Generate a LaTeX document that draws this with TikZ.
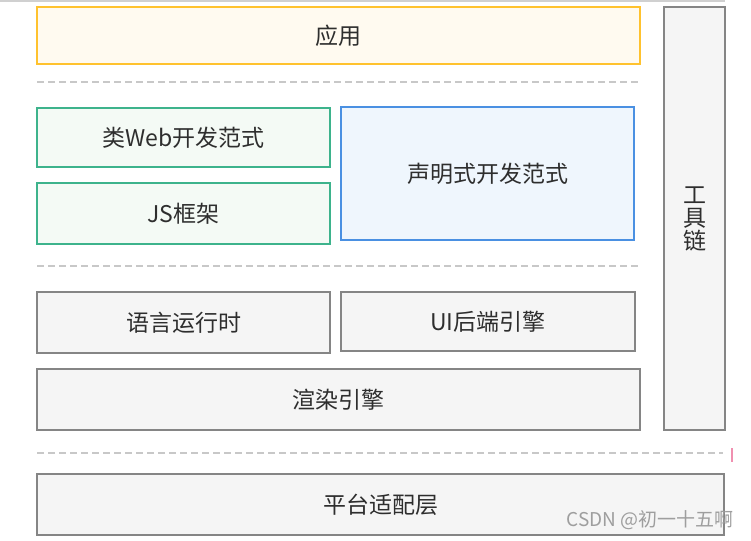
\documentclass[tikz,border=0pt]{standalone}
\usepackage{fontspec}
\setmainfont{Noto Sans CJK SC}
\usetikzlibrary{positioning}
\definecolor{textGray}{HTML}{2E2E2E}
\definecolor{appFill}{HTML}{FFFAF0}
\definecolor{appBorder}{HTML}{FFC22E}
\definecolor{webFill}{HTML}{F4FAF5}
\definecolor{webBorder}{HTML}{3DB38C}
\definecolor{declFill}{HTML}{EFF6FD}
\definecolor{declBorder}{HTML}{4A90E2}
\definecolor{baseFill}{HTML}{F5F5F5}
\definecolor{baseBorder}{HTML}{858585}
\definecolor{sepGray}{HTML}{C8C8C8}
\definecolor{markPink}{HTML}{F090B0}
\tikzset {
    style A/.style={
        fill=appFill,
        draw=appBorder,
        line width=1.3pt,
        rectangle, % Set the shape as a rectangle
        inner sep=0pt,
        align=center,
        text=textGray,
    },
    style B/.style={
        fill=webFill,
        draw=webBorder,
        line width=1.3pt,
        rectangle, % Set the shape as a rectangle
        inner sep=0pt,
        align=center,
        text=textGray,
    },
    style C/.style={
        fill=declFill,
        draw=declBorder,
        line width=1.3pt,
        rectangle, % Set the shape as a rectangle
        inner sep=0pt,
        align=center,
        text=textGray,
    },
    style D/.style={
        fill=baseFill,
        draw=baseBorder,
        line width=1.3pt,
        rectangle, % Set the shape as a rectangle
        inner sep=0pt,
        align=center,
        text=textGray,
    },
    style Sep/.style={
        draw=sepGray,
        line width=1.3pt,
        dash pattern=on 7pt off 4pt,
    },
}

\begin{document}
\begin{tikzpicture}
        [x=1pt, y=-1pt, font=\fontsize{23}{23}\selectfont]
        \useasboundingbox (0,0) rectangle (751,540);
        \fill[baseFill!85!black] (0,0) rectangle (725,2);

        \node[style A, minimum width=603pt, minimum height=57pt] at (338.5,35.5) (app) {应用};
        \node[style B, minimum width=293pt, minimum height=59pt] at (183.5,137.5) (web) {类Web开发范式};
        \node[style B, minimum width=293pt, minimum height=61pt] at (183.5,213.5) (js) {JS框架};
        \node[style C, minimum width=293pt, minimum height=133pt] at (487.5,173.5) (decl) {声明式开发范式};
        \node[style D, minimum width=293pt, minimum height=61pt] at (183.5,322.5) (runtime) {语言运行时};
        \node[style D, minimum width=294pt, minimum height=59pt] at (488,321.5) (uiEngine) {UI后端引擎};
        \node[style D, minimum width=603pt, minimum height=61pt] at (338.5,399.5) (render) {渲染引擎};
        \node[style D, minimum width=61pt, minimum height=423pt] at (694.5,218.5) (tools) {工\\具\\链};
        \node[style D, minimum width=687pt, minimum height=61pt] at (380.5,504.5) (platform) {平台适配层};

        \coordinate (sepA) at (37,82);
        \coordinate (sepB) at (37,266);
        \coordinate (sepC) at (37,453);
        \draw[style Sep] (sepA) -- (641,82);
        \draw[style Sep] (sepB) -- (641,266);
        \draw[style Sep] (sepC) -- (723,453);
        \draw[markPink, line width=1.2pt] (732,448) -- (732,462);

        \node[text=black!38, font=\fontsize{19}{21}\selectfont] at (650,520) (mark) {CSDN @初一十五啊};
    \end{tikzpicture}
\end{document}
